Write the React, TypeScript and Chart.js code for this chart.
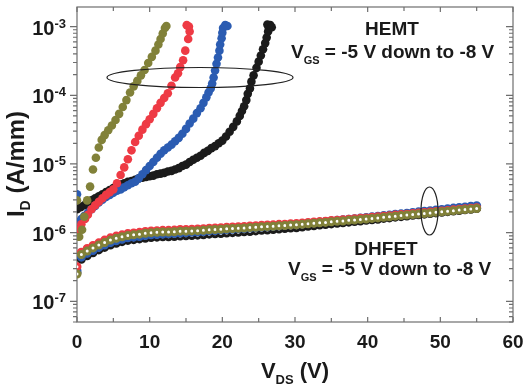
import React, { useEffect, useRef } from 'react';
import { Chart, registerables } from 'chart.js';

Chart.register(...registerables);

// ---------- DATA ----------
// DHFET curves (shared V_DS sampling)
const dhfetVds = [
  0, 0.6, 1.4, 2.2, 3.0, 3.8, 4.6, 5.4, 6.2, 7.0, 7.8, 8.6, 9.4, 10.2, 11.0, 11.8, 12.6, 13.4, 14.2, 15.0,
  15.8, 16.6, 17.4, 18.2, 19.0, 19.8, 20.6, 21.4, 22.2, 23.0, 23.8, 24.6, 25.4, 26.2, 27.0, 27.8, 28.6, 29.4, 30.2, 31.0,
  31.8, 32.6, 33.4, 34.2, 35.0, 35.8, 36.6, 37.4, 38.2, 39.0, 39.8, 40.6, 41.4, 42.2, 43.0, 43.8, 44.6, 45.4, 46.2, 47.0,
  47.8, 48.6, 49.4, 50.2, 51.0, 51.8, 52.6, 53.4, 54.2, 55.0,
];
const dhfetOlive = [
  2.5e-7, 4.8e-7, 5.4e-7, 6.0e-7, 6.6e-7, 7.2e-7, 7.8e-7, 8.3e-7, 8.7e-7, 9.1e-7, 9.3e-7, 9.5e-7, 9.8e-7, 1.0e-6, 1.01e-6, 1.02e-6, 1.02e-6, 1.03e-6, 1.05e-6, 1.05e-6,
  1.06e-6, 1.07e-6, 1.08e-6, 1.10e-6, 1.11e-6, 1.12e-6, 1.14e-6, 1.15e-6, 1.16e-6, 1.17e-6, 1.19e-6, 1.20e-6, 1.22e-6, 1.23e-6, 1.24e-6, 1.26e-6, 1.27e-6, 1.29e-6, 1.30e-6, 1.32e-6,
  1.35e-6, 1.37e-6, 1.39e-6, 1.41e-6, 1.44e-6, 1.46e-6, 1.48e-6, 1.51e-6, 1.53e-6, 1.56e-6, 1.58e-6, 1.61e-6, 1.64e-6, 1.67e-6, 1.70e-6, 1.74e-6, 1.77e-6, 1.80e-6, 1.84e-6, 1.87e-6,
  1.90e-6, 1.94e-6, 1.98e-6, 2.01e-6, 2.05e-6, 2.09e-6, 2.13e-6, 2.17e-6, 2.21e-6, 2.25e-6,
];
const dhfetRed = [
  3.2e-7, 5.2e-7, 5.9e-7, 6.5e-7, 7.1e-7, 7.8e-7, 8.4e-7, 8.9e-7, 9.3e-7, 9.7e-7, 9.9e-7, 1.01e-6, 1.04e-6, 1.06e-6, 1.07e-6, 1.08e-6, 1.08e-6, 1.09e-6, 1.11e-6, 1.11e-6,
  1.12e-6, 1.13e-6, 1.14e-6, 1.16e-6, 1.17e-6, 1.18e-6, 1.20e-6, 1.21e-6, 1.22e-6, 1.23e-6, 1.25e-6, 1.26e-6, 1.28e-6, 1.29e-6, 1.30e-6, 1.32e-6, 1.33e-6, 1.35e-6, 1.36e-6, 1.38e-6,
  1.41e-6, 1.43e-6, 1.45e-6, 1.47e-6, 1.50e-6, 1.52e-6, 1.54e-6, 1.57e-6, 1.59e-6, 1.62e-6, 1.64e-6, 1.67e-6, 1.70e-6, 1.73e-6, 1.76e-6, 1.80e-6, 1.83e-6, 1.86e-6, 1.90e-6, 1.93e-6,
  1.96e-6, 2.00e-6, 2.04e-6, 2.07e-6, 2.11e-6, 2.15e-6, 2.19e-6, 2.23e-6, 2.27e-6, 2.31e-6,
];
const dhfetBlue = [
  2.8e-7, 4.4e-7, 5.0e-7, 5.5e-7, 6.1e-7, 6.6e-7, 7.2e-7, 7.6e-7, 8.0e-7, 8.4e-7, 8.6e-7, 8.8e-7, 9.1e-7, 9.3e-7, 9.4e-7, 9.5e-7, 9.6e-7, 9.7e-7, 9.9e-7, 1.0e-6,
  1.01e-6, 1.02e-6, 1.04e-6, 1.06e-6, 1.07e-6, 1.09e-6, 1.11e-6, 1.12e-6, 1.14e-6, 1.15e-6, 1.17e-6, 1.19e-6, 1.21e-6, 1.22e-6, 1.24e-6, 1.26e-6, 1.28e-6, 1.30e-6, 1.31e-6, 1.34e-6,
  1.37e-6, 1.40e-6, 1.42e-6, 1.45e-6, 1.48e-6, 1.51e-6, 1.54e-6, 1.57e-6, 1.60e-6, 1.63e-6, 1.66e-6, 1.70e-6, 1.73e-6, 1.77e-6, 1.80e-6, 1.85e-6, 1.88e-6, 1.92e-6, 1.97e-6, 2.01e-6,
  2.05e-6, 2.09e-6, 2.14e-6, 2.18e-6, 2.23e-6, 2.28e-6, 2.32e-6, 2.37e-6, 2.42e-6, 2.47e-6,
];
const dhfetBlack = [
  2.6e-7, 4.1e-7, 4.6e-7, 5.1e-7, 5.6e-7, 6.1e-7, 6.6e-7, 7.0e-7, 7.4e-7, 7.7e-7, 7.9e-7, 8.1e-7, 8.3e-7, 8.5e-7, 8.6e-7, 8.7e-7, 8.7e-7, 8.8e-7, 8.9e-7, 9.0e-7,
  9.1e-7, 9.2e-7, 9.3e-7, 9.5e-7, 9.6e-7, 9.7e-7, 9.9e-7, 1.0e-6, 1.01e-6, 1.03e-6, 1.04e-6, 1.06e-6, 1.08e-6, 1.09e-6, 1.11e-6, 1.13e-6, 1.15e-6, 1.17e-6, 1.18e-6, 1.21e-6,
  1.24e-6, 1.26e-6, 1.29e-6, 1.31e-6, 1.34e-6, 1.37e-6, 1.39e-6, 1.42e-6, 1.45e-6, 1.48e-6, 1.51e-6, 1.54e-6, 1.57e-6, 1.61e-6, 1.64e-6, 1.68e-6, 1.71e-6, 1.75e-6, 1.79e-6, 1.82e-6,
  1.86e-6, 1.90e-6, 1.94e-6, 1.98e-6, 2.02e-6, 2.06e-6, 2.10e-6, 2.15e-6, 2.19e-6, 2.24e-6,
];

// HEMT curves
const hemtBlackVds = [
  0.0, 0.5, 1.0, 1.5, 2.0, 2.5, 3.0, 3.5, 4.0, 4.5, 5.0, 5.5, 6.0, 6.5, 7.0, 7.5, 8.0, 8.5, 9.0, 9.5,
  10.0, 10.5, 11.0, 11.5, 12.0, 12.5, 13.0, 13.5, 14.0, 14.5, 15.0, 15.5, 16.0, 16.5, 17.0, 17.5, 18.0, 18.5, 19.0, 19.5,
  20.0, 20.5, 21.0, 21.5, 22.0, 22.4, 22.7, 23.0, 23.3, 23.5, 23.8, 24.0, 24.3, 24.7, 25.0, 25.3, 25.6, 25.9, 26.1, 26.3,
  26.4, 26.6, 26.2, 26.8,
];
const hemtBlackId = [
  2.19e-6, 2.34e-6, 2.51e-6, 2.69e-6, 2.95e-6, 3.16e-6, 3.39e-6, 3.63e-6, 3.89e-6, 4.17e-6, 4.47e-6, 4.79e-6, 5.01e-6, 5.25e-6, 5.50e-6, 5.62e-6, 5.89e-6, 6.17e-6, 6.31e-6, 6.46e-6,
  6.61e-6, 6.76e-6, 7.08e-6, 7.24e-6, 7.41e-6, 7.76e-6, 7.94e-6, 8.32e-6, 8.71e-6, 9.33e-6, 9.77e-6, 1.07e-5, 1.15e-5, 1.23e-5, 1.32e-5, 1.45e-5, 1.55e-5, 1.70e-5, 1.82e-5, 2.00e-5,
  2.19e-5, 2.51e-5, 2.95e-5, 3.47e-5, 4.17e-5, 5.01e-5, 5.89e-5, 6.92e-5, 8.51e-5, 1.05e-4, 1.26e-4, 1.58e-4, 1.95e-4, 2.51e-4, 3.09e-4, 3.80e-4, 4.68e-4, 5.75e-4, 6.92e-4, 8.51e-4,
  9.55e-4, 1.05e-3, 1.07e-3, 9.77e-4,
];
const hemtBlueVds = [
  0.0, 0.2, 0.6, 1.0, 1.5, 2.0, 2.5, 3.0, 3.5, 4.0, 4.5, 5.0, 5.5, 6.0, 6.5, 7.0, 7.5, 8.0, 8.5, 9.0,
  9.5, 10.0, 10.5, 11.0, 11.5, 12.0, 12.5, 13.0, 13.5, 14.0, 14.5, 15.0, 15.5, 16.0, 16.5, 17.0, 17.4, 17.8, 18.1, 18.4,
  18.6, 18.8, 19.0, 19.2, 19.4, 19.6, 19.7, 19.9, 20.0, 20.1, 20.4, 20.7,
];
const hemtBlueId = [
  3.63e-6, 1.41e-6, 1.58e-6, 1.74e-6, 1.95e-6, 2.19e-6, 2.45e-6, 2.75e-6, 3.02e-6, 3.31e-6, 3.55e-6, 3.80e-6, 4.07e-6, 4.27e-6, 4.57e-6, 4.90e-6, 5.25e-6, 5.50e-6, 6.17e-6, 7.08e-6,
  8.13e-6, 9.33e-6, 1.07e-5, 1.23e-5, 1.41e-5, 1.58e-5, 1.74e-5, 1.91e-5, 2.14e-5, 2.40e-5, 2.75e-5, 3.24e-5, 3.89e-5, 4.57e-5, 5.50e-5, 6.46e-5, 7.76e-5, 9.33e-5, 1.10e-4, 1.26e-4,
  1.48e-4, 1.82e-4, 2.29e-4, 2.88e-4, 3.55e-4, 4.47e-4, 5.50e-4, 6.76e-4, 8.13e-4, 9.55e-4, 1.05e-3, 1.02e-3,
];
const hemtRedVds = [
  0.2, 0.6, 1.1, 1.5, 2.0, 2.5, 3.0, 3.5, 4.0, 4.5, 5.0, 5.5, 6.0, 6.5, 7.0, 7.5, 8.0, 8.5, 9.0, 9.5,
  10.0, 10.5, 11.0, 11.5, 12.0, 12.5, 13.0, 13.5, 13.9, 14.2, 14.6, 14.9, 15.3, 15.5, 15.4, 15.1,
];
const hemtRedId = [
  1.10e-6, 1.32e-6, 1.58e-6, 1.82e-6, 2.19e-6, 2.51e-6, 2.82e-6, 3.16e-6, 3.55e-6, 3.89e-6, 4.27e-6, 5.25e-6, 6.92e-6, 8.91e-6, 1.17e-5, 1.58e-5, 2.09e-5, 2.57e-5, 3.16e-5, 3.80e-5,
  4.47e-5, 5.37e-5, 6.46e-5, 7.76e-5, 9.12e-5, 1.07e-4, 1.38e-4, 1.82e-4, 2.09e-4, 2.57e-4, 3.24e-4, 4.47e-4, 6.61e-4, 8.51e-4, 1.00e-3, 1.05e-3,
];
const hemtOliveVds = [
  0.0, 0.3, 0.7, 1.0, 1.4, 1.8, 2.2, 2.6, 3.0, 3.4, 3.8, 4.3, 4.8, 5.3, 5.8, 6.3, 6.8, 7.3, 7.8, 8.3,
  8.8, 9.3, 9.8, 10.3, 10.8, 11.2, 11.5, 11.8, 12.1, 12.3,
];
const hemtOliveId = [
  2.95e-6, 8.71e-7, 1.10e-6, 1.70e-6, 2.95e-6, 4.68e-6, 8.32e-6, 1.23e-5, 1.74e-5, 2.24e-5, 2.63e-5, 3.09e-5, 3.63e-5, 4.37e-5, 5.37e-5, 6.76e-5, 8.51e-5, 1.10e-4, 1.35e-4, 1.62e-4,
  1.95e-4, 2.34e-4, 2.95e-4, 3.63e-4, 4.47e-4, 5.50e-4, 6.61e-4, 7.94e-4, 9.55e-4, 1.02e-3,
];

const xTicks = [0, 10, 20, 30, 40, 50, 60];
const yDecades = [-3, -4, -5, -6, -7];

const COLORS = {
  olive: '#818139',
  red: '#ee3a44',
  blue: '#2b5cb2',
  black: '#1b1b1b',
};

const FONT = "'Liberation Sans', Arial, Helvetica, sans-serif";

function pts(xs: number[], ys: number[]) {
  return xs.map((x, i) => ({ x, y: ys[i] }));
}

const decoPlugin = {
  id: 'deco',
  beforeDatasetsDraw(chart: any) {
    const { ctx, chartArea: a, scales } = chart;
    const x = scales.x;
    const y = scales.y;
    ctx.save();
    ctx.strokeStyle = '#6e6e6e';
    ctx.lineWidth = 1.2;
    ctx.strokeRect(a.left, a.top, a.right - a.left, a.bottom - a.top);
    for (let v = 0; v <= 60; v += 5) {
      const px = x.getPixelForValue(v);
      const len = v % 10 === 0 ? 5 : 4;
      ctx.beginPath();
      ctx.moveTo(px, a.bottom);
      ctx.lineTo(px, a.bottom - len);
      ctx.moveTo(px, a.top);
      ctx.lineTo(px, a.top + len);
      ctx.stroke();
    }
    for (let e = -8; e <= -3; e++) {
      for (let m = 1; m <= 9; m++) {
        const val = m * Math.pow(10, e);
        if (val < y.min || val > y.max) continue;
        const py = y.getPixelForValue(val);
        const len = m === 1 ? 7 : 4;
        ctx.beginPath();
        ctx.moveTo(a.left, py);
        ctx.lineTo(a.left - len, py);
        ctx.moveTo(a.right, py);
        ctx.lineTo(a.right - len, py);
        ctx.stroke();
      }
    }
    ctx.restore();
  },
  afterDraw(chart: any) {
    const { ctx, chartArea: a, scales } = chart;
    const x = scales.x;
    const y = scales.y;
    ctx.save();
    ctx.fillStyle = '#1a1a1a';
    ctx.textBaseline = 'alphabetic';

    ctx.font = `bold 19px ${FONT}`;
    ctx.textAlign = 'center';
    xTicks.forEach((t) => {
      ctx.fillText(String(t), x.getPixelForValue(t), 348);
    });

    yDecades.forEach((e) => {
      const py = y.getPixelForValue(Math.pow(10, e));
      ctx.font = `bold 13px ${FONT}`;
      const sup = String(e);
      const w2 = ctx.measureText(sup).width;
      ctx.textAlign = 'left';
      const right = 66;
      ctx.fillText(sup, right - w2, py + 1);
      ctx.font = `bold 20px ${FONT}`;
      ctx.textAlign = 'right';
      ctx.fillText('10', right - w2, py + 8);
    });

    const drawSub = (
      parts: { t: string; sub?: boolean }[],
      startX: number,
      baseY: number,
      size: number,
      subSize: number,
      subDrop: number,
    ) => {
      let cx = startX;
      ctx.textAlign = 'left';
      parts.forEach((p) => {
        ctx.font = `bold ${p.sub ? subSize : size}px ${FONT}`;
        ctx.fillText(p.t, cx, baseY + (p.sub ? subDrop : 0));
        cx += ctx.measureText(p.t).width;
      });
      return cx - startX;
    };
    const measureSub = (parts: { t: string; sub?: boolean }[], size: number, subSize: number) => {
      let w = 0;
      parts.forEach((p) => {
        ctx.font = `bold ${p.sub ? subSize : size}px ${FONT}`;
        w += ctx.measureText(p.t).width;
      });
      return w;
    };

    const xt = [{ t: 'V' }, { t: 'DS', sub: true }, { t: ' (V)' }];
    const xtw = measureSub(xt, 22, 13);
    drawSub(xt, (a.left + a.right) / 2 - xtw / 2, 378, 22, 13, 6);

    const yt = [{ t: 'I' }, { t: 'D', sub: true }, { t: ' (A/mm)' }];
    const ytw = measureSub(yt, 24, 14);
    ctx.save();
    ctx.translate(24, 164);
    ctx.rotate(-Math.PI / 2);
    drawSub(yt, -ytw / 2, 0, 24, 14, 6);
    ctx.restore();

    ctx.font = `bold 19px ${FONT}`;
    ctx.textAlign = 'center';
    ctx.fillText('HEMT', 392, 35);
    ctx.fillText('DHFET', 386, 255);
    const vgs = [{ t: 'V' }, { t: 'GS', sub: true }, { t: ' = -5 V down to -8 V' }];
    drawSub(vgs, 291, 58, 19, 11, 6);
    drawSub(vgs, 288, 275, 19, 11, 6);

    ctx.strokeStyle = '#222';
    ctx.lineWidth = 1.2;
    ctx.beginPath();
    ctx.ellipse(200, 77.5, 93, 10, 0, 0, Math.PI * 2);
    ctx.stroke();
    ctx.beginPath();
    ctx.ellipse(429.5, 211, 8.5, 24, 0, 0, Math.PI * 2);
    ctx.stroke();

    ctx.restore();
  },
};

export default function App() {
  const ref = useRef<HTMLCanvasElement | null>(null);

  useEffect(() => {
    document.body.style.margin = '0';
    const canvas = ref.current;
    if (!canvas) return;

    const hemt = (label: string, xs: number[], ys: number[], color: string) => ({
      label,
      data: pts(xs, ys),
      showLine: false,
      pointRadius: 4.3,
      pointBorderWidth: 0,
      pointBackgroundColor: color,
      pointBorderColor: color,
      backgroundColor: color,
      borderColor: color,
    });
    const dh = (label: string, ys: number[], color: string) => ({
      label,
      data: pts(dhfetVds, ys),
      showLine: false,
      pointRadius: 3,
      pointBorderWidth: 3,
      pointBackgroundColor: '#ffffff',
      pointBorderColor: color,
      backgroundColor: '#ffffff',
      borderColor: color,
    });

    const chart = new Chart(canvas, {
      type: 'scatter',
      data: {
        datasets: [
          hemt('HEMT olive', hemtOliveVds, hemtOliveId, COLORS.olive),
          hemt('HEMT red', hemtRedVds, hemtRedId, COLORS.red),
          hemt('HEMT blue', hemtBlueVds, hemtBlueId, COLORS.blue),
          hemt('HEMT black', hemtBlackVds, hemtBlackId, COLORS.black),
          dh('DHFET olive', dhfetOlive, COLORS.olive),
          dh('DHFET red', dhfetRed, COLORS.red),
          dh('DHFET blue', dhfetBlue, COLORS.blue),
          dh('DHFET black', dhfetBlack, COLORS.black),
        ] as any,
      },
      options: {
        responsive: false,
        animation: false,
        events: [],
        layout: { padding: { left: 77, right: 17, top: 1, bottom: 68 } },
        plugins: {
          legend: { display: false },
          tooltip: { enabled: false },
        },
        scales: {
          x: { type: 'linear', min: 0, max: 60, display: false },
          y: { type: 'logarithmic', min: 5e-8, max: 1.93e-3, display: false },
        },
      },
      plugins: [decoPlugin],
    });
    return () => chart.destroy();
  }, []);

  return (
    <div style={{ position: 'fixed', left: 0, top: 0, width: 530, height: 390, background: '#fff' }}>
      <canvas ref={ref} width={530} height={390} style={{ display: 'block', width: 530, height: 390 }} />
    </div>
  );
}
